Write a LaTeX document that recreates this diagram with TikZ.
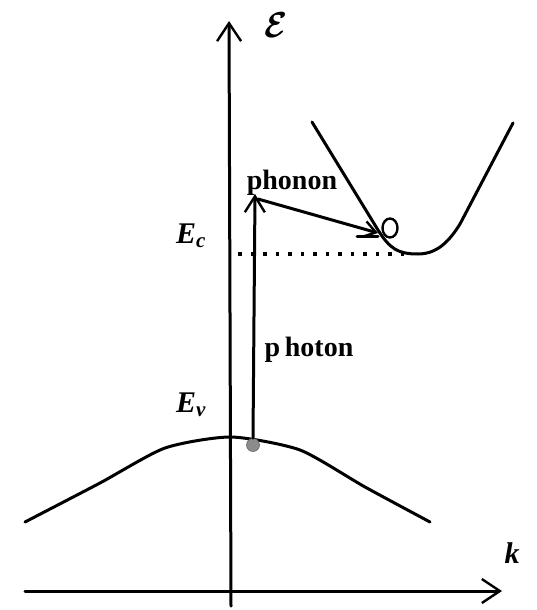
\documentclass[tikz,border=0pt]{standalone}
\usepackage{fontspec}
\setmainfont{Liberation Serif}
\usepackage{amsmath,amssymb}
\usepackage{graphicx}
\usetikzlibrary{arrows.meta}
\begin{document}
\begin{tikzpicture}[x=1pt,y=-1pt,
  ln/.style={line width=3pt, line cap=round, line join=round},
  ax/.style={ln, -{Straight Barb[length=18pt,width=24pt,line width=2.4pt]}},
  lbl/.style={inner sep=0pt, font=\bfseries\fontsize{28}{28}\selectfont},
  elabel/.style={inner sep=0pt, font=\bfseries\itshape\fontsize{30}{30}\selectfont}]
\useasboundingbox (0,0) rectangle (537,610);
% axes
\coordinate (ybot) at (231,606);
\coordinate (ytop) at (229,21);
\coordinate (xl) at (25,591);
\coordinate (xr) at (502,591);
\draw[ax] (ybot) -- (ytop);
\draw[ax] (xl) -- (xr);
\node[inner sep=0pt] (eps) at (276,25) {\scalebox{1.35}[1.45]{\fontsize{24}{24}\selectfont$\boldsymbol{\mathcal{E}}$}};
\node[elabel] (k) at (512,553) {k};
% conduction band
\draw[ln] (312,122) -- (378,230) .. controls (390,249) and (398,254) .. (418,254)
  .. controls (438,254) and (450,240) .. (460,224) -- (513,123);
% valence band
\draw[ln] plot[smooth, tension=0.4] coordinates {(25,522) (100,483) (165,448) (231,437) (300,450) (365,487) (430,522)};
% Ec dotted
\coordinate (ecl) at (238,254);
\coordinate (ecr) at (412,254);
\draw[line width=3.5pt, dash pattern=on 3.5pt off 9pt] (ecl) -- (ecr);
\node[elabel] (Ec) at (191,236) {E\textsubscript{\itshape c}};
\node[elabel] (Ev) at (191,405) {E\textsubscript{\itshape v}};
% valence max dot
\node[circle, fill=black!45, draw=black!60, line width=0.6pt, minimum size=13pt, inner sep=0pt] (vm) at (253,445) {};
% photon arrow
\coordinate (ptop) at (255,194);
\draw[ln, -{Straight Barb[length=16pt,width=20pt,line width=2.4pt]}] (vm.north) -- (ptop);
\node[lbl] (photon) at (309,350) {p\,hoton};
\node[lbl] (phonon) at (292,183) {phonon};
% phonon arrow
\coordinate (phs) at (258,199);
\coordinate (phe) at (378,233);
\draw[ln, -{Straight Barb[length=12pt,width=16pt,line width=2.4pt]}] (phs) -- (phe);
\draw[ln] (357,236) -- (378,236);
% final electron state
\draw[line width=2.4pt] (390,228) ellipse (7.5pt and 9.5pt);
\node[inner sep=0pt, minimum size=0pt] (fs) at (390,228) {};
\end{tikzpicture}
\end{document}
